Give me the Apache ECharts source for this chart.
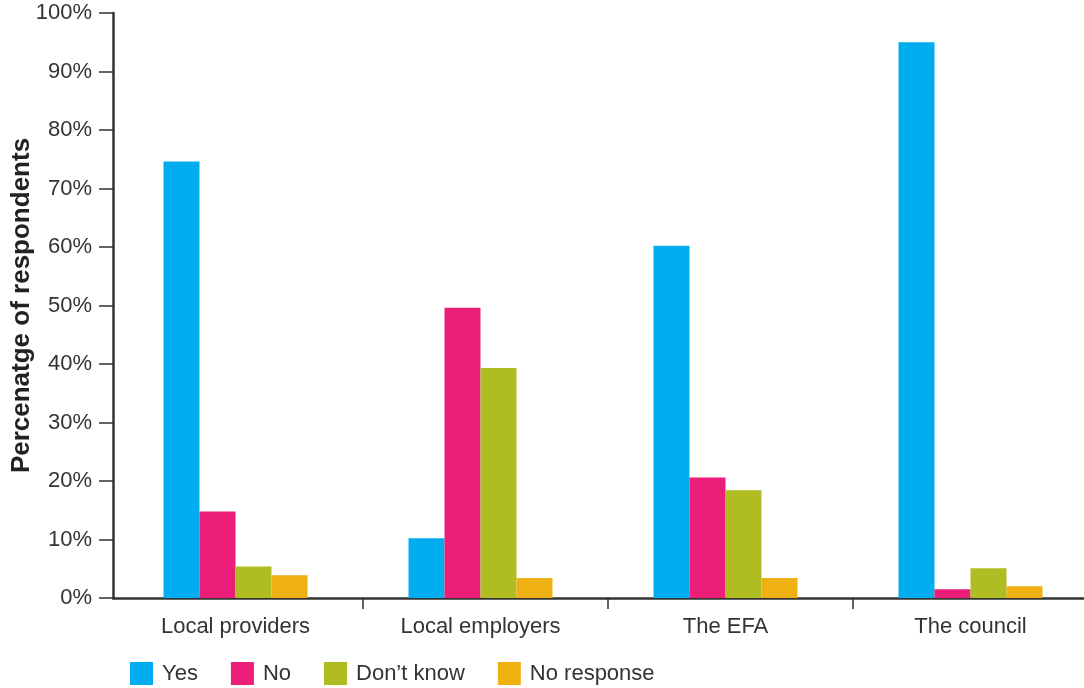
<!DOCTYPE html>
<html>
<head>
<meta charset="utf-8">
<script src="https://cdn.jsdelivr.net/npm/echarts@6/dist/echarts.min.js"></script>
<style>
  html, body { margin: 0; padding: 0; background: #fff; }
  #chart { width: 1084px; height: 688px; }
</style>
</head>
<body>
<div id="chart"></div>
<script>
// Survey responses by organisation, percentage of respondents
const categories = ['Local providers', 'Local employers', 'The EFA', 'The council'];
const seriesNames = ['Yes', 'No', 'Don\u2019t know', 'No response'];
const yesValues = [74.6, 10.2, 60.2, 95.0];
const noValues = [14.8, 49.6, 20.6, 1.5];
const dontKnowValues = [5.4, 39.3, 18.4, 5.1];
const noResponseValues = [3.9, 3.4, 3.4, 2.0];
const yTicks = [0, 10, 20, 30, 40, 50, 60, 70, 80, 90, 100];
const groupDividers = [1, 2, 3];

const colors = ['#00AEEF', '#ED1E79', '#AFBD22', '#EFB111'];
const font = 'Liberation Sans, Arial, Helvetica, sans-serif';
const valueSets = [yesValues, noValues, dontKnowValues, noResponseValues];

const chart = echarts.init(document.getElementById('chart'));
chart.setOption({
  animation: false,
  color: colors,
  textStyle: { fontFamily: font },
  grid: [
    { left: 113, top: 13, width: 980, height: 585, containLabel: false, outerBoundsMode: 'none' },
    // divider ticks between the category groups, drawn slightly to the right
    { left: 118, top: 13, width: 980, height: 585, containLabel: false, outerBoundsMode: 'none' }
  ],
  legend: {
    left: 125, top: 657,
    itemWidth: 23, itemHeight: 23, itemGap: 33,
    icon: 'rect',
    textStyle: { fontSize: 22, color: '#333', fontFamily: font, padding: [0, 0, 0, 4] },
    data: seriesNames
  },
  xAxis: [{
    type: 'category',
    gridIndex: 0,
    data: categories,
    axisLine: { lineStyle: { color: '#333', width: 2.5 } },
    axisTick: { show: false },
    axisLabel: { fontSize: 22, color: '#333', margin: 18, fontFamily: font }
  }, {
    type: 'value',
    gridIndex: 1,
    min: 0, max: 4,
    axisLine: { show: false },
    axisTick: { show: true, length: 11, customValues: groupDividers, lineStyle: { color: '#333', width: 1.5 } },
    axisLabel: { show: false },
    splitLine: { show: false }
  }],
  yAxis: [{
    type: 'value',
    gridIndex: 0,
    min: yTicks[0], max: yTicks[yTicks.length - 1], interval: 10,
    name: 'Percenatge of respondents',
    nameLocation: 'middle',
    nameGap: 78,
    nameMoveOverlap: false,
    nameTextStyle: { fontSize: 26, fontWeight: 'bold', color: '#222', fontFamily: font },
    axisLine: { show: true, lineStyle: { color: '#333', width: 2.5 } },
    axisTick: { show: true, inside: false, length: 14, lineStyle: { color: '#333', width: 1.5 } },
    splitLine: { show: false },
    axisLabel: { fontSize: 22, color: '#333', margin: 21, formatter: '{value}%', fontFamily: font }
  }, {
    type: 'value',
    gridIndex: 1,
    show: false,
    min: 0, max: 100
  }],
  series: seriesNames.map((name, i) => ({
    name: name,
    type: 'bar',
    xAxisIndex: 0,
    yAxisIndex: 0,
    data: valueSets[i],
    barWidth: 36,
    barGap: '0%',
    itemStyle: { color: colors[i] }
  }))
});
</script>
</body>
</html>
